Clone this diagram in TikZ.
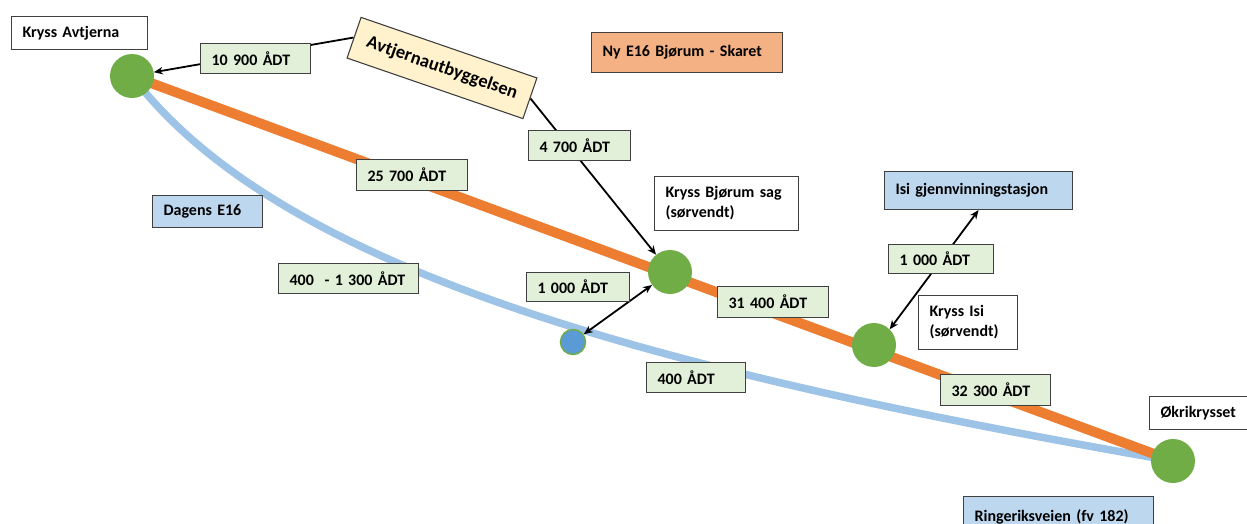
\documentclass[tikz,border=0pt]{standalone}
\usepackage{fontspec}
\setmainfont{Carlito}
\usetikzlibrary{arrows.meta,backgrounds}
\definecolor{orng}{HTML}{ED7D31}
\definecolor{lblue}{HTML}{9DC3E6}
\definecolor{grn}{HTML}{70AD47}
\definecolor{boxgrn}{HTML}{E2F0D9}
\definecolor{boxblue}{HTML}{BDD7EE}
\definecolor{boxorng}{HTML}{F4B183}
\definecolor{boxyel}{HTML}{FFF2CC}
\definecolor{bord}{HTML}{404040}
\definecolor{dotblue}{HTML}{5B9BD5}
\tikzset{
 lbl/.style={draw=bord, line width=1.1pt, anchor=north west, inner xsep=11pt, inner ysep=0pt, align=left, font=\bfseries\fontsize{16}{20}\selectfont},
 adt/.style={lbl, fill=boxgrn},
 info/.style={lbl, fill=white},
 roadbox/.style={lbl, fill=boxblue},
 junction/.style={circle, fill=grn, minimum size=44pt, inner sep=0pt},
 arr/.style={line width=1.8pt, -{Stealth[length=9pt,width=7.5pt]}},
 darr/.style={line width=1.8pt, {Stealth[length=9pt,width=7.5pt]}-{Stealth[length=9pt,width=7.5pt]}},
}
\begin{document}
\begin{tikzpicture}[x=1pt,y=-1pt]
\useasboundingbox (0,0) rectangle (1247,524);
% junctions
\node[junction] (cavt) at (132,76) {};
\node[junction] (cbj) at (670,272) {};
\node[junction] (cisi) at (874,345) {};
\node[junction] (cokri) at (1173,461) {};
\node[circle, fill=dotblue, draw=grn, line width=1.5pt, minimum size=25pt, inner sep=0pt] (cblue) at (573,342) {};
% labels
\node[info, text width=114pt, minimum height=33pt] (kavt) at (11,16) {Kryss Avtjerna};
\node[adt, text width=88pt, minimum height=30pt] (a10900) at (200,43) {10 900 ÅDT};
\node[draw=bord, line width=1.1pt, fill=boxyel, rotate=-19, minimum width=186pt, minimum height=43pt, inner sep=0pt, font=\bfseries\fontsize{18.5}{22}\selectfont] (autb) at (442,68) {Avtjernautbyggelsen};
\node[lbl, fill=boxorng, text width=169pt, minimum height=40pt] (ny) at (591,32) {Ny E16 Bjørum - Skaret};
\node[adt, text width=80pt, minimum height=30pt] (a4700) at (528,130) {4 700 ÅDT};
\node[adt, text width=89pt, minimum height=31pt] (a25700) at (356,159) {25 700 ÅDT};
\node[info, text width=122pt, minimum height=54pt] (kbj) at (654,176) {Kryss Bjørum sag\\(sørvendt)};
\node[roadbox, text width=88pt, minimum height=32pt] (dagens) at (152,195) {Dagens E16};
\node[adt, text width=118pt, minimum height=30pt] (a4001300) at (278,263) {400\ \ - 1 300 ÅDT};
\node[adt, text width=81pt, minimum height=29pt] (a1000l) at (526,272) {1 000 ÅDT};
\node[adt, text width=89pt, minimum height=31pt] (a31400) at (717,286) {31 400 ÅDT};
\node[roadbox, text width=166pt, minimum height=38pt] (isig) at (884,171) {Isi gjennvinningstasjon};
\node[adt, text width=83pt, minimum height=29pt] (a1000r) at (888,244) {1 000 ÅDT};
\node[info, text width=77pt, minimum height=54pt] (kisi) at (918,295) {Kryss Isi\\(sørvendt)};
\node[adt, text width=77pt, minimum height=30pt] (a400) at (646,362) {400 ÅDT};
\node[adt, text width=88pt, minimum height=31pt] (a32300) at (940,374) {32 300 ÅDT};
\node[info, text width=78pt, minimum height=33pt] (okri) at (1149,396) {Økrikrysset};
\node[roadbox, text width=168pt, minimum height=40pt] (ringer) at (963,496) {Ringeriksveien (fv 182)};
% roads and arrows behind
\begin{pgfonlayer}{background}
\draw[lblue, line width=7.5pt] (cavt.center) .. controls (280,270) and (650,370) .. (cokri.center);
\draw[orng, line width=10pt] (cavt.center) -- (cokri.center);
\draw[arr] (autb.west) -- (cavt);
\draw[arr] (autb.east) -- (cbj);
\draw[darr] (cblue) -- (cbj);
\draw[darr] (cisi.north east) -- (isig.south);
\end{pgfonlayer}
\end{tikzpicture}
\end{document}
